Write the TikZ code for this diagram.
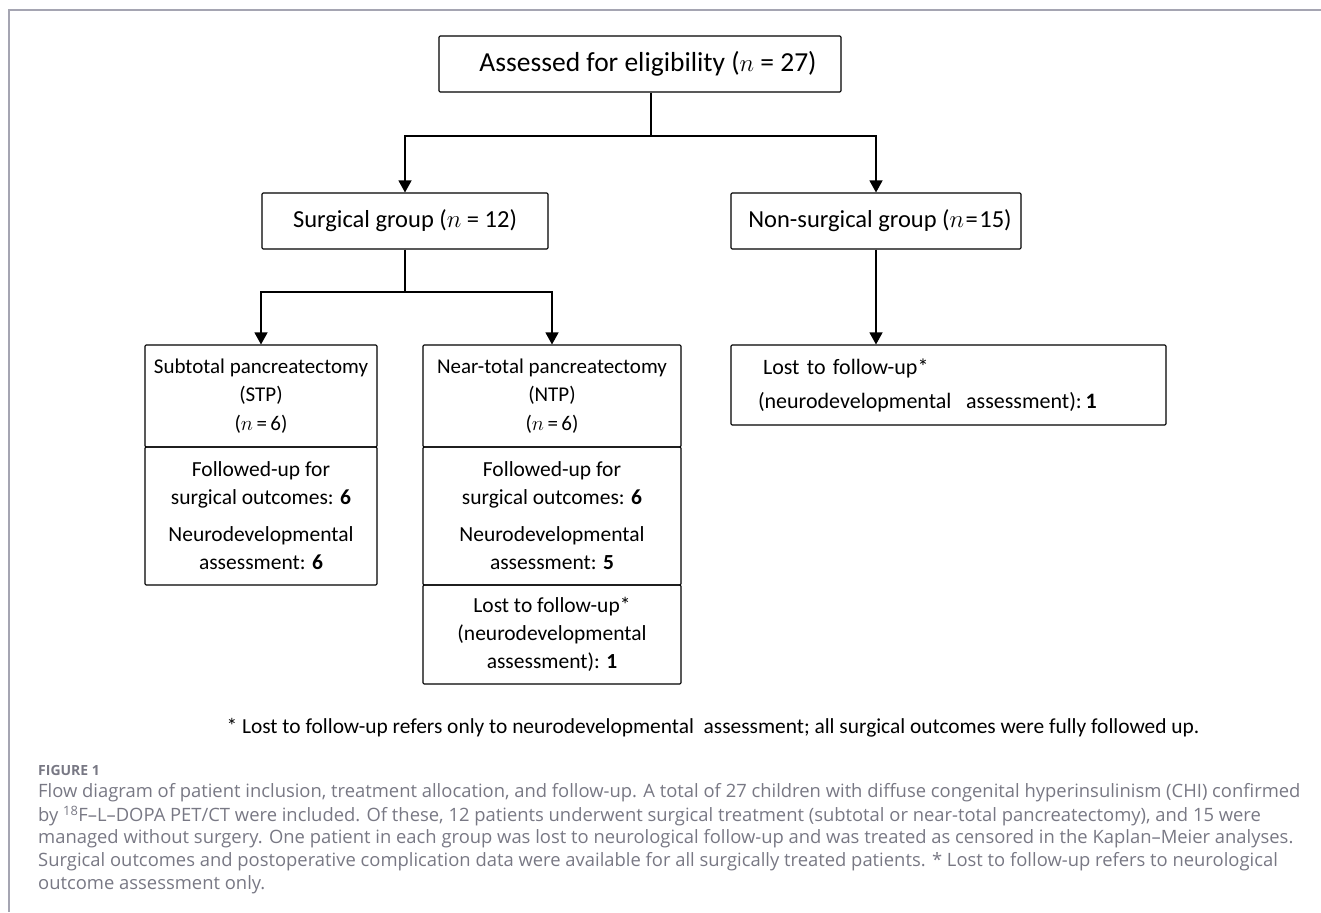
\documentclass[tikz,border=0pt]{standalone}
\usepackage{fontspec}
\setmainfont{Carlito}
\newfontfamily\capfont{Open Sans}
\usetikzlibrary{arrows.meta}
\definecolor{framegray}{RGB}{165,165,178}
\definecolor{capgray}{RGB}{120,120,132}

\begin{document}
\begin{tikzpicture}[x=1pt,y=-1pt,
  box/.style={draw,line width=1.1pt,rounded corners=1.2pt,inner sep=0pt,align=center},
  link/.style={line width=1.3pt},
  arr/.style={line width=1.3pt,-{Triangle[width=13pt,length=12pt]}},
  capline/.style={anchor=west,inner sep=0pt,text=capgray,font=\capfont\fontsize{18.4}{20}\selectfont}]
	\useasboundingbox (0,0) rectangle (1321,912);
	\draw[framegray,line width=1.4pt] (1321,10) -- (9,10) -- (9,912);

	\node[box,minimum width=402pt,minimum height=56pt,font=\fontsize{27.5}{30}\selectfont] (elig) at (640,64) {\hspace*{16pt}Assessed for eligibility ($n$ = 27)};
	\node[box,minimum width=286pt,minimum height=56pt,font=\fontsize{24.5}{28}\selectfont] (surg) at (405,221) {Surgical group ($n$ = 12)};
	\node[box,minimum width=290pt,minimum height=56pt,font=\fontsize{24.5}{28}\selectfont] (nons) at (876,221) {\hspace*{8pt}Non-surgical group ($n$\kern1.5pt=\kern1.5pt15)};

	\node[box,minimum width=232pt,minimum height=102pt,font=\fontsize{21}{28.5}\selectfont] (stphead) at (261,396) {Subtotal pancreatectomy\\(STP)\\($n$\,=\,6)};
	\node[box,minimum width=232pt,minimum height=138pt,font=\fontsize{21.5}{28}\selectfont] (stpbody) at (261,516) {Followed-up for\\surgical outcomes: \textbf{6}\\[9pt]Neurodevelopmental\\assessment: \textbf{6}};

	\node[box,minimum width=258pt,minimum height=102pt,font=\fontsize{21}{28.5}\selectfont] (ntphead) at (552,396) {Near-total pancreatectomy\\(NTP)\\($n$\,=\,6)};
	\node[box,minimum width=258pt,minimum height=138pt,font=\fontsize{21.5}{28}\selectfont] (ntpbody) at (552,516) {Followed-up for\\surgical outcomes: \textbf{6}\\[9pt]Neurodevelopmental\\assessment: \textbf{5}};
	\node[box,minimum width=258pt,minimum height=99pt,font=\fontsize{21.5}{28}\selectfont] (ntplost) at (552,634.5) {Lost to follow-up*\\(neurodevelopmental\\assessment): \textbf{1}};

	\node[box,align=left,text width=381pt,inner xsep=27pt,minimum height=80pt,font=\fontsize{22}{34}\selectfont] (nslost) at (948.5,385) {\hspace*{5pt}Lost to follow-up*\\(neurodevelopmental\ \ assessment):\,\textbf{1}};

	\coordinate (split) at (651,136);
	\coordinate (split2) at (405,292);
	\draw[link] (elig.south -| split) -- (split);
	\draw[arr] (split) -| (surg.north);
	\draw[arr] (split) -| (nons.north);
	\draw[link] (surg.south) -- (split2);
	\draw[arr] (split2) -| (stphead.north);
	\draw[arr] (split2) -| (ntphead.north);
	\draw[arr] (nons.south) -- (nons.south |- nslost.north);

	\node[font=\fontsize{21.4}{24}\selectfont] (note) at (713,728) {* Lost to follow-up refers only to neurodevelopmental\ \ assessment; all surgical outcomes were fully followed up.};

	\node[capline,font=\capfont\bfseries\fontsize{14}{16}\selectfont] (fig) at (38,770) {FIGURE 1};
	\node[capline] (cap1) at (38,793) {Flow diagram of patient inclusion, treatment allocation, and follow-up. A total of 27 children with diffuse congenital hyperinsulinism (CHI) confirmed};
	\node[capline] (cap2) at (38,816) {by \textsuperscript{18}F–L–DOPA PET/CT were included. Of these, 12 patients underwent surgical treatment (subtotal or near-total pancreatectomy), and 15 were};
	\node[capline] (cap3) at (38,839) {managed without surgery. One patient in each group was lost to neurological follow-up and was treated as censored in the Kaplan–Meier analyses.};
	\node[capline] (cap4) at (38,862) {Surgical outcomes and postoperative complication data were available for all surgically treated patients. * Lost to follow-up refers to neurological};
	\node[capline] (cap5) at (38,885) {outcome assessment only.};
\end{tikzpicture}
\end{document}
